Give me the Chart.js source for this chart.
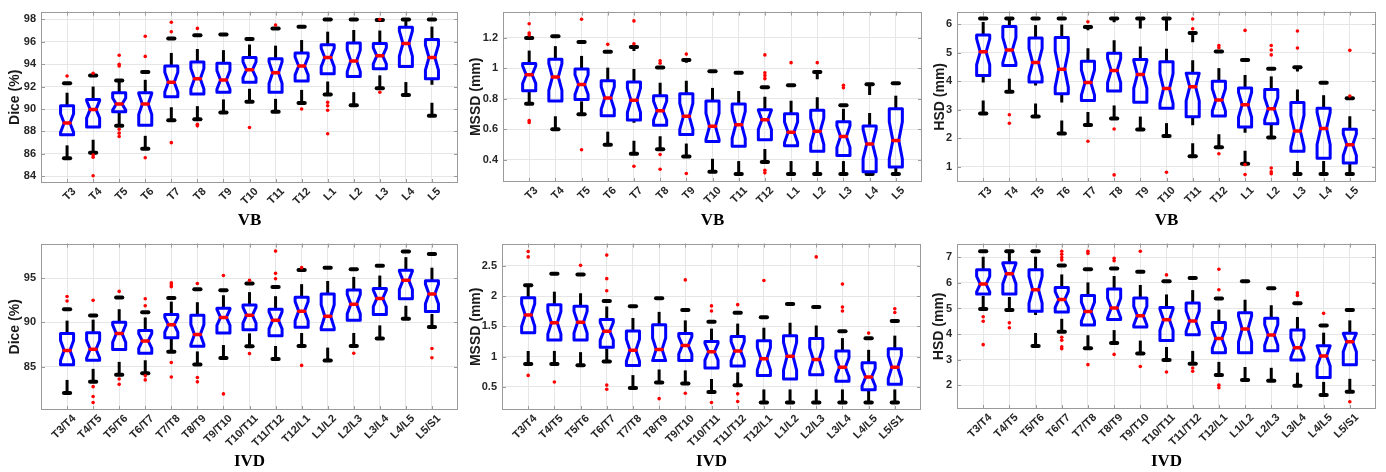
<!DOCTYPE html>
<html>
<head>
<meta charset="utf-8">
<script src="https://cdn.jsdelivr.net/npm/chart.js@4.4.1/dist/chart.umd.min.js"></script>
<style>
  body { margin: 0; background: #fff; width: 1386px; height: 472px; position: relative; overflow: hidden; }
  .panel { position: absolute; }
</style>
</head>
<body>
<div class="panel" style="left:0;top:0;width:463px;height:232px"><canvas id="diceVb"></canvas></div>
<div class="panel" style="left:463px;top:0;width:463px;height:232px"><canvas id="mssdVb"></canvas></div>
<div class="panel" style="left:926px;top:0;width:460px;height:232px"><canvas id="hsdVb"></canvas></div>
<div class="panel" style="left:0;top:232px;width:463px;height:240px"><canvas id="diceIvd"></canvas></div>
<div class="panel" style="left:463px;top:232px;width:463px;height:240px"><canvas id="mssdIvd"></canvas></div>
<div class="panel" style="left:926px;top:232px;width:460px;height:240px"><canvas id="hsdIvd"></canvas></div>
<script>
// ---- categories ----
const vbLabels = ['T3','T4','T5','T6','T7','T8','T9','T10','T11','T12','L1','L2','L3','L4','L5'];
const ivdLabels = ['T3/T4','T4/T5','T5/T6','T6/T7','T7/T8','T8/T9','T9/T10','T10/T11','T11/T12','T12/L1','L1/L2','L2/L3','L3/L4','L4/L5','L5/S1'];

// ---- Dice, VB ----
const diceVbLow  = [85.6, 86.1, 88.5, 86.45, 89.0, 89.1, 89.7, 90.65, 89.75, 90.55, 91.3, 90.35, 91.85, 91.25, 89.4];
const diceVbQ1   = [87.7, 88.4, 89.75, 88.55, 91.1, 91.35, 91.5, 92.4, 91.5, 92.5, 93.15, 92.9, 93.6, 93.8, 92.7];
const diceVbMed  = [88.75, 89.97, 90.45, 90.45, 92.4, 92.7, 92.6, 93.5, 93.25, 93.85, 94.6, 94.3, 94.75, 95.85, 94.6];
const diceVbQ3   = [90.3, 90.85, 91.45, 91.45, 93.85, 94.2, 94.1, 94.6, 94.5, 95.0, 95.75, 95.9, 95.85, 97.3, 96.2];
const diceVbHigh = [92.3, 93.0, 92.55, 93.3, 96.3, 96.6, 96.65, 96.25, 97.2, 97.35, 98.0, 98.0, 97.95, 98.0, 98.0];
const diceVbOut  = [[92.95], [93.2, 85.9, 85.7, 84.05], [94.8, 94.0, 93.85, 88.2, 87.85, 87.55], [96.5, 94.7, 85.65],
  [97.75, 96.9, 87.0], [97.2, 88.65, 88.5], [], [88.35], [97.5], [90.0], [90.6, 90.3, 89.9, 87.8], [], [98.0, 91.5], [], []];
const diceVbTicks = [84, 86, 88, 90, 92, 94, 96, 98];

// ---- MSSD, VB ----
const mssdVbLow  = [0.767, 0.6, 0.698, 0.499, 0.439, 0.469, 0.421, 0.321, 0.306, 0.385, 0.306, 0.306, 0.306, 0.306, 0.306];
const mssdVbQ1   = [0.853, 0.786, 0.795, 0.689, 0.66, 0.627, 0.565, 0.52, 0.488, 0.531, 0.492, 0.456, 0.428, 0.321, 0.353];
const mssdVbMed  = [0.958, 0.943, 0.893, 0.805, 0.79, 0.722, 0.685, 0.619, 0.629, 0.662, 0.58, 0.587, 0.552, 0.503, 0.527];
const mssdVbQ3   = [1.031, 1.06, 0.996, 0.919, 0.91, 0.82, 0.833, 0.786, 0.765, 0.728, 0.702, 0.724, 0.649, 0.621, 0.735];
const mssdVbHigh = [1.198, 1.21, 1.172, 1.108, 1.14, 1.005, 1.054, 0.981, 0.97, 0.876, 0.889, 0.975, 0.758, 0.895, 0.902];
const mssdVbOut  = [[1.292, 1.232, 1.219, 0.657, 0.645], [], [1.322, 0.466], [1.157], [1.311, 1.161, 0.357],
  [1.05, 1.033, 0.434, 0.338], [1.093, 0.31], [], [], [1.088, 0.97, 0.953, 0.932, 0.331, 0.314], [1.037], [1.037],
  [0.889, 0.872], [], []];
const mssdVbTicks = [0.4, 0.6, 0.8, 1, 1.2];

// ---- HSD, VB ----
const hsdVbLow  = [2.86, 3.63, 2.76, 2.16, 2.46, 2.69, 2.3, 2.07, 1.36, 1.68, 1.1, 2.02, 0.74, 0.74, 0.74];
const hsdVbQ1   = [4.2, 4.55, 3.97, 3.56, 3.32, 3.65, 3.26, 3.05, 2.75, 2.78, 2.39, 2.5, 1.54, 1.29, 1.13];
const hsdVbMed  = [5.03, 5.09, 4.65, 4.42, 3.95, 4.37, 4.23, 3.74, 3.8, 3.34, 3.17, 3.03, 2.25, 2.34, 1.77];
const hsdVbQ3   = [5.62, 5.92, 5.51, 5.53, 4.7, 4.98, 4.76, 4.68, 4.28, 4.0, 3.76, 3.71, 3.25, 3.05, 2.31];
const hsdVbHigh = [6.2, 6.2, 6.2, 6.2, 5.9, 6.2, 6.2, 6.2, 5.69, 5.04, 4.74, 4.43, 4.49, 3.94, 3.4];
const hsdVbOut  = [[], [2.82, 2.52], [], [], [6.08, 1.89], [2.32, 0.71], [], [0.8], [6.18, 5.84], [5.25, 5.17, 1.45],
  [5.78, 1.07, 0.72], [5.25, 5.09, 4.92, 0.95, 0.82, 0.75], [5.76, 5.16], [], [5.08, 3.48]];
const hsdVbTicks = [1, 2, 3, 4, 5, 6];

// ---- Dice, IVD ----
const diceIvdLow  = [82.03, 83.28, 84.07, 84.25, 86.68, 85.25, 85.97, 87.29, 85.86, 87.33, 85.68, 87.33, 88.19, 90.41, 89.48];
const diceIvdQ1   = [85.22, 85.72, 86.94, 86.5, 88.26, 87.29, 88.8, 89.16, 88.48, 89.44, 89.16, 90.23, 90.88, 92.67, 91.24];
const diceIvdMed  = [86.83, 86.97, 88.73, 87.9, 89.73, 88.62, 90.56, 90.81, 90.23, 91.27, 90.7, 92.06, 92.71, 94.75, 93.21];
const diceIvdQ3   = [88.73, 88.84, 90.02, 89.09, 90.88, 90.81, 91.6, 91.95, 91.49, 92.85, 93.21, 93.67, 93.82, 95.9, 94.71];
const diceIvdHigh = [91.49, 90.77, 92.81, 91.13, 92.74, 93.75, 93.64, 94.39, 94.0, 95.93, 96.18, 96.0, 96.4, 98.01, 97.72];
const diceIvdOut  = [[92.92, 92.42], [92.49, 82.74, 81.63, 80.95], [93.5, 83.6, 83.0], [92.67, 91.88, 83.96, 83.5],
  [94.46, 94.21, 94.03, 85.47, 83.82], [94.39, 83.78, 83.28], [95.29, 81.92], [94.75, 86.47], [98.05, 95.54, 94.93],
  [96.18, 85.14], [], [86.51], [], [], [87.04, 86.0]];
const diceIvdTicks = [85, 90, 95];

// ---- MSSD, IVD ----
const mssdIvdLow  = [0.88, 0.88, 0.86, 0.92, 0.48, 0.573, 0.558, 0.416, 0.526, 0.243, 0.243, 0.243, 0.243, 0.243, 0.243];
const mssdIvdQ1   = [1.395, 1.275, 1.275, 1.155, 0.856, 0.935, 0.935, 0.814, 0.846, 0.688, 0.631, 0.699, 0.594, 0.453, 0.542];
const mssdIvdMed  = [1.69, 1.56, 1.57, 1.42, 1.107, 1.12, 1.186, 1.081, 1.092, 0.966, 1.008, 0.955, 0.825, 0.662, 0.825];
const mssdIvdQ3   = [1.976, 1.86, 1.835, 1.615, 1.425, 1.526, 1.385, 1.249, 1.332, 1.264, 1.348, 1.3, 1.092, 0.898, 1.133];
const mssdIvdHigh = [2.18, 2.37, 2.36, 1.92, 1.835, 1.966, 1.77, 1.578, 1.725, 1.652, 1.87, 1.82, 1.42, 1.306, 1.59];
const mssdIvdOut  = [[2.74, 2.65, 0.69], [0.58], [2.51], [2.68, 2.29, 2.09, 0.53, 0.46], [], [0.306], [2.27, 0.395],
  [1.84, 1.756, 0.243], [1.86, 0.385, 0.259], [2.26], [], [2.65], [2.2, 1.82, 1.756], [1.39], [1.793, 1.73]];
const mssdIvdTicks = [0.5, 1, 1.5, 2, 2.5];

// ---- HSD, IVD ----
const hsdIvdLow  = [4.98, 4.94, 3.54, 4.09, 3.45, 3.65, 3.24, 2.99, 2.84, 2.41, 2.21, 2.18, 1.99, 1.63, 1.75];
const hsdIvdQ1   = [5.56, 5.56, 4.89, 4.86, 4.36, 4.57, 4.28, 3.75, 3.98, 3.27, 3.27, 3.35, 2.99, 2.31, 2.81];
const hsdIvdMed  = [5.95, 6.35, 5.73, 5.35, 4.88, 5.02, 4.72, 4.56, 4.51, 3.83, 4.2, 3.97, 3.47, 3.15, 3.7];
const hsdIvdQ3   = [6.51, 6.78, 6.51, 5.82, 5.51, 5.76, 5.41, 5.04, 5.21, 4.45, 4.83, 4.62, 4.16, 3.55, 4.03];
const hsdIvdHigh = [7.23, 7.23, 7.23, 6.68, 6.53, 6.56, 6.43, 6.06, 6.19, 5.39, 6.06, 5.79, 5.2, 4.34, 4.94];
const hsdIvdOut  = [[4.68, 4.5, 3.59], [4.44, 4.25], [], [7.23, 7.11, 6.99, 6.89, 3.88, 3.76, 3.51, 3.43],
  [7.23, 7.15, 2.81], [6.96, 6.86, 3.21], [7.23, 2.74], [6.31, 2.52], [2.68, 2.55], [6.53, 5.73, 2.01, 1.91],
  [], [], [5.61, 5.51], [4.81], [1.36]];
const hsdIvdTicks = [2, 3, 4, 5, 6, 7];

Chart.defaults.font.family = '"Liberation Sans", Arial, sans-serif';
Chart.defaults.color = '#262626';

// notched box + dashed whiskers, drawn through the chart's own scales
function notchBoxes(low, q1, med, q3, high) {
  return {
    id: 'notchBoxes',
    beforeDatasetsDraw(chart) {
      const { ctx, scales: { x, y } } = chart;
      const unit = x.getPixelForValue(1) - x.getPixelForValue(0);
      const hw = unit * 0.25, nw = hw * 0.45, cw = unit * 0.12;
      const seg = (x1, y1, x2, y2) => { ctx.beginPath(); ctx.moveTo(x1, y1); ctx.lineTo(x2, y2); ctx.stroke(); };
      ctx.save();
      med.forEach((m, i) => {
        const cx = x.getPixelForValue(i + 1);
        const iqr = q3[i] - q1[i];
        const pLo = y.getPixelForValue(low[i]), pHi = y.getPixelForValue(high[i]);
        const pQ1 = y.getPixelForValue(q1[i]), pQ3 = y.getPixelForValue(q3[i]);
        const pMed = y.getPixelForValue(m);
        const pNLo = y.getPixelForValue(Math.max(q1[i], m - 0.32 * iqr));
        const pNHi = y.getPixelForValue(Math.min(q3[i], m + 0.32 * iqr));

        // whiskers (MATLAB style dashes, drawn bottom-up)
        ctx.strokeStyle = '#000';
        ctx.lineWidth = 3;
        ctx.lineCap = 'butt';
        ctx.setLineDash([13, 18]);
        seg(cx, pLo, cx, pQ1);
        seg(cx, pQ3, cx, pHi);
        ctx.setLineDash([]);
        ctx.lineWidth = 4;
        ctx.lineCap = 'round';
        seg(cx - cw, pLo, cx + cw, pLo);
        seg(cx - cw, pHi, cx + cw, pHi);

        // notched box
        ctx.strokeStyle = '#0000ff';
        ctx.lineWidth = 3;
        ctx.lineJoin = 'round';
        ctx.beginPath();
        ctx.moveTo(cx - hw, pQ1);
        ctx.lineTo(cx - hw, pNLo);
        ctx.lineTo(cx - nw, pMed);
        ctx.lineTo(cx - hw, pNHi);
        ctx.lineTo(cx - hw, pQ3);
        ctx.lineTo(cx + hw, pQ3);
        ctx.lineTo(cx + hw, pNHi);
        ctx.lineTo(cx + nw, pMed);
        ctx.lineTo(cx + hw, pNLo);
        ctx.lineTo(cx + hw, pQ1);
        ctx.closePath();
        ctx.stroke();

        // median
        ctx.strokeStyle = '#ff0000';
        ctx.lineWidth = 3.5;
        ctx.lineCap = 'round';
        seg(cx - nw, pMed, cx + nw, pMed);
      });
      ctx.restore();
    }
  };
}

// gray axes box with small inward ticks
const frame = {
  id: 'frame',
  afterDraw(chart) {
    const { ctx, chartArea: a, scales: { x, y } } = chart;
    ctx.save();
    ctx.strokeStyle = '#9a9a9a';
    ctx.lineWidth = 1;
    ctx.strokeRect(Math.round(a.left) + 0.5, Math.round(a.top) + 0.5,
      Math.round(a.right - a.left) - 1, Math.round(a.bottom - a.top) - 1);
    ctx.beginPath();
    y.ticks.forEach(t => {
      const py = Math.round(y.getPixelForValue(t.value)) + 0.5;
      ctx.moveTo(a.left, py); ctx.lineTo(a.left + 4, py);
      ctx.moveTo(a.right, py); ctx.lineTo(a.right - 4, py);
    });
    x.ticks.forEach(t => {
      const px = Math.round(x.getPixelForValue(t.value)) + 0.5;
      ctx.moveTo(px, a.bottom); ctx.lineTo(px, a.bottom - 4);
      ctx.moveTo(px, a.top); ctx.lineTo(px, a.top + 4);
    });
    ctx.stroke();
    ctx.restore();
  }
};

function makePanel(id, labels, low, q1, med, q3, high, out, yTicks, yMin, yMax, yTitle, xTitle, lay) {
  const points = out.flatMap((list, i) => list.map(v => ({ x: i + 1, y: v })));
  new Chart(document.getElementById(id), {
    type: 'scatter',
    plugins: [notchBoxes(low, q1, med, q3, high), frame],
    data: {
      datasets: [{
        data: points,
        pointRadius: 1.8,
        pointHoverRadius: 1.8,
        pointBorderWidth: 0,
        pointBackgroundColor: '#ff0000',
        clip: false
      }]
    },
    options: {
      responsive: true,
      maintainAspectRatio: false,
      animation: false,
      devicePixelRatio: 1,
      events: [],
      layout: { padding: { top: lay.top, right: lay.right, left: 0, bottom: 0 } },
      plugins: { legend: { display: false }, tooltip: { enabled: false } },
      scales: {
        x: {
          type: 'linear',
          min: 0,
          max: labels.length + 1,
          afterBuildTicks: s => { s.ticks = labels.map((_, i) => ({ value: i + 1 })); },
          afterFit: s => { s.height = lay.xh; },
          grid: { color: '#e6e6e6', drawTicks: false },
          border: { display: false },
          ticks: {
            autoSkip: false,
            minRotation: 45,
            maxRotation: 45,
            padding: 2,
            labelOffset: 7,
            font: { size: 11, weight: 'bold' },
            callback: v => labels[Math.round(v) - 1] ?? ''
          },
          title: {
            display: true,
            text: xTitle,
            color: '#000',
            font: { family: '"Liberation Serif", "Times New Roman", serif', size: 17, weight: 'bold' },
            padding: { top: 0, bottom: lay.tb }
          }
        },
        y: {
          min: yMin,
          max: yMax,
          afterBuildTicks: s => { s.ticks = yTicks.map(v => ({ value: v })); },
          afterFit: s => { s.width = lay.yw; },
          grid: { color: '#e6e6e6', drawTicks: false },
          border: { display: false },
          ticks: { padding: 5, font: { size: 11, weight: 'bold' }, callback: v => String(v) },
          title: {
            display: true,
            text: yTitle,
            color: '#1a1a1a',
            font: { size: 14, weight: 'bold' },
            padding: { top: lay.yt, bottom: 0 }
          }
        }
      }
    }
  });
}

makePanel('diceVb', vbLabels, diceVbLow, diceVbQ1, diceVbMed, diceVbQ3, diceVbHigh, diceVbOut,
  diceVbTicks, 83.4, 98.7, 'Dice (%)', 'VB', { top: 8, right: 5, xh: 49, yw: 41, tb: 1, yt: 7 });
makePanel('mssdVb', vbLabels, mssdVbLow, mssdVbQ1, mssdVbMed, mssdVbQ3, mssdVbHigh, mssdVbOut,
  mssdVbTicks, 0.254, 1.372, 'MSSD (mm)', 'VB', { top: 8, right: 4, xh: 50, yw: 40, tb: 1, yt: 4.5 });
makePanel('hsdVb', vbLabels, hsdVbLow, hsdVbQ1, hsdVbMed, hsdVbQ3, hsdVbHigh, hsdVbOut,
  hsdVbTicks, 0.46, 6.44, 'HSD (mm)', 'VB', { top: 8, right: 10, xh: 50, yw: 31, tb: 1, yt: 5.5 });
makePanel('diceIvd', ivdLabels, diceIvdLow, diceIvdQ1, diceIvdMed, diceIvdQ3, diceIvdHigh, diceIvdOut,
  diceIvdTicks, 80.1, 98.9, 'Dice (%)', 'IVD', { top: 3, right: 5, xh: 62, yw: 41, tb: 0, yt: 6.5 });
makePanel('mssdIvd', ivdLabels, mssdIvdLow, mssdIvdQ1, mssdIvdMed, mssdIvdQ3, mssdIvdHigh, mssdIvdOut,
  mssdIvdTicks, 0.118, 2.87, 'MSSD (mm)', 'IVD', { top: 3, right: 5, xh: 62, yw: 39, tb: 0, yt: 4.5 });
makePanel('hsdIvd', ivdLabels, hsdIvdLow, hsdIvdQ1, hsdIvdMed, hsdIvdQ3, hsdIvdHigh, hsdIvdOut,
  hsdIvdTicks, 1.08, 7.53, 'HSD (mm)', 'IVD', { top: 3, right: 10, xh: 63, yw: 31, tb: 0, yt: 4.5 });
</script>
</body>
</html>
